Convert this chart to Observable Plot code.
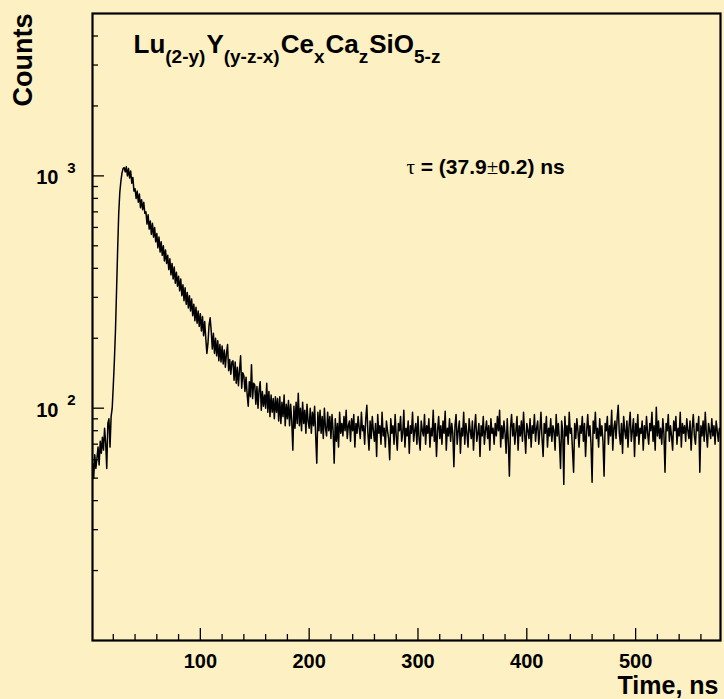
<!DOCTYPE html>
<html><head><meta charset="utf-8">
<script src="https://cdn.jsdelivr.net/npm/d3@7"></script>
<script src="https://cdn.jsdelivr.net/npm/@observablehq/plot@0.6"></script>
<style>
html,body{margin:0;padding:0;background:#fdf1c3;}
#chart svg{display:block;}
</style></head><body><div id="chart"></div>
<script>
// Histogram counts, one bin per ns starting at t = 0 ns
const counts = [
52,58,50,63,55,61,68,57,72,64,
75,66,82,71,55,86,90,68,92,100,
125,160,215,320,480,690,850,950,1030,1075,
1085,1040,1095,1000,1075,980,1050,930,985,860,
880,800,860,770,835,730,790,715,770,690,
700,620,680,590,640,560,625,545,600,520,
565,490,545,470,520,455,500,430,480,420,
455,395,440,375,420,360,405,345,385,335,
370,320,360,305,340,290,330,280,315,270,
305,262,295,250,280,238,272,232,262,225,
255,215,248,205,236,200,172,190,228,245,
215,180,210,172,200,168,195,160,188,158,
185,155,178,150,172,188,145,162,140,158,
160,132,158,128,150,125,146,168,122,142,
138,118,136,115,102,130,112,154,110,128,
126,104,124,100,120,130,98,118,102,114,
100,128,96,118,92,114,96,110,90,112,
96,110,88,112,86,106,92,114,84,104,
90,108,84,104,88,66,102,82,106,86,
116,84,100,80,106,86,98,78,104,88,
82,100,78,96,84,102,76,58,96,80,
98,78,92,74,100,82,76,96,80,92,
74,94,80,58,90,72,86,68,96,78,
86,76,92,80,98,74,84,88,72,90,
80,94,68,86,78,92,82,74,96,80,
84,70,90,103,78,66,88,74,92,80,
72,86,62,94,78,84,70,96,76,82,
68,88,80,74,60,90,78,84,70,94,
76,66,86,80,92,72,78,98,68,82,
76,88,64,84,78,96,72,80,86,70,
92,74,66,88,80,76,94,70,84,78,
90,68,82,76,98,72,86,62,80,92,
74,84,70,88,78,97,66,82,76,90,
72,86,78,56,84,94,70,80,88,64,
82,76,96,70,86,78,68,90,80,74,
88,66,82,94,72,78,86,62,84,76,
92,70,80,88,74,84,66,90,78,82,
70,86,76,92,80,98,68,84,74,88,
78,64,90,72,51,82,94,76,86,70,
80,92,66,84,76,88,72,96,78,64,
86,80,74,90,68,84,78,94,72,82,
88,70,80,96,74,62,86,78,92,68,
82,76,90,72,84,80,66,94,76,86,
72,55,88,80,47,92,76,84,70,96,
78,82,66,53,86,74,90,80,68,84,
78,92,72,86,62,80,94,76,84,70,
48,88,78,96,74,82,68,90,76,84,
72,51,86,80,92,70,84,76,98,66,
82,88,74,90,103,78,70,86,64,92,
80,74,88,68,84,96,72,80,90,62,
86,76,94,70,82,78,88,66,84,74,
92,78,70,86,80,96,72,84,66,101,
76,88,74,82,70,90,78,53,86,80,
94,72,84,76,66,88,80,92,70,82,
76,96,68,86,78,84,72,90,80,74,
88,66,82,94,76,70,86,80,92,53,
84,76,88,72,96,78,68,86,80,74,
90,76,84,70,88,80,72,82
];
const binStart = 0;
const binWidth = 1;

const xDomain = [0.9, 578];
const yDomain = [10, 5000];
const xMajorTicks = [100, 200, 300, 400, 500];
const xMinorTicks = [20, 40, 60, 80, 120, 140, 160, 180, 220, 240, 260, 280, 320, 340, 360, 380, 420, 440, 460, 480, 520, 540, 560];
const yMajorTicks = [100, 1000];
const yMinorTicks = [20, 30, 40, 50, 60, 70, 80, 90, 200, 300, 400, 500, 600, 700, 800, 900, 2000, 3000, 4000];
const xLabel = "Time, ns";
const yLabel = "Counts";
// [text, isSubscript]
const titleParts = [["Lu", 0], ["(2-y)", 1], ["Y", 0], ["(y-z-x)", 1], ["Ce", 0], ["x", 1], ["Ca", 0], ["z", 1], ["SiO", 0], ["5-z", 1]];
// [text, isSymbol]
const tauParts = [["τ", 1], [" = (37.9", 0], ["±", 1], ["0.2) ns", 0]];

const FONT = "'Liberation Sans', Arial, Helvetica, sans-serif";
const SYMFONT = "'Liberation Serif', 'DejaVu Serif', serif";
const data = counts.map((c, i) => ({t: binStart + i * binWidth, c}));

const ctx = document.createElement("canvas").getContext("2d");
function measure(text, size, weight, family) {
  ctx.font = `${weight} ${size}px ${family}`;
  return ctx.measureText(text).width;
}

const titleMarks = [];
{
  let off = 0;
  for (const [txt, sub] of titleParts) {
    const size = sub ? 19 : 26;
    titleMarks.push(Plot.text([txt], {
      frameAnchor: "top-left", text: d => d, dx: 41 + off, dy: sub ? 49.5 : 39.5,
      fontSize: size, fontWeight: "bold", fontFamily: FONT,
      textAnchor: "start", lineAnchor: "bottom", fill: "black"
    }));
    off += measure(txt, size, "bold", FONT) + (sub ? 1 : 0);
  }
}
const tauMarks = [];
{
  let off = 0;
  for (const [txt, sym] of tauParts) {
    const fam = sym ? SYMFONT : FONT;
    const w = sym ? "normal" : "bold";
    const size = 21;
    tauMarks.push(Plot.text([txt], {
      frameAnchor: "top-left", text: d => d, dx: 314 + off, dy: 160.5,
      fontSize: size, fontWeight: w, fontFamily: fam,
      textAnchor: "start", lineAnchor: "bottom", fill: "black"
    }));
    off += measure(txt, size, w, fam);
  }
}

const chart = Plot.plot({
  width: 724,
  height: 699,
  marginLeft: 92,
  marginRight: 4,
  marginTop: 13,
  marginBottom: 59,
  style: {background: "#fdf1c3", fontFamily: FONT, color: "black"},
  x: {domain: xDomain},
  y: {type: "log", domain: yDomain},
  marks: [
    Plot.line(data, {x: "t", y: "c", stroke: "black", strokeWidth: 1.5, clip: true}),
    Plot.axisX(xMinorTicks, {anchor: "bottom", tickSize: -6, tickFormat: () => "", strokeWidth: 1.3, label: null}),
    Plot.axisX(xMajorTicks, {anchor: "bottom", tickSize: -12, tickFormat: () => "", strokeWidth: 1.3, label: null}),
    Plot.axisY(yMinorTicks, {anchor: "left", tickSize: -6, tickFormat: () => "", strokeWidth: 1.3, label: null}),
    Plot.axisY(yMajorTicks, {anchor: "left", tickSize: -12, tickFormat: () => "", strokeWidth: 1.3, label: null}),
    Plot.axisX(xMajorTicks, {anchor: "bottom", tickSize: 0, tickPadding: 13, fontSize: 20, fontWeight: "bold", tickFormat: d => String(d), label: null}),
    Plot.axisY(yMajorTicks, {anchor: "left", tickSize: 0, tickPadding: 34, fontSize: 20, fontWeight: "bold", dy: 2, tickFormat: () => "10", label: null}),
    Plot.axisY(yMajorTicks, {anchor: "left", tickSize: 0, tickPadding: 17, fontSize: 15, fontWeight: "bold", dy: -8, tickFormat: d => String(Math.round(Math.log10(d))), label: null}),
    Plot.text([xLabel], {frameAnchor: "bottom-right", text: d => d, dx: -2, dy: 53, fontSize: 25, fontWeight: "bold", textAnchor: "end", lineAnchor: "bottom"}),
    Plot.text([yLabel], {frameAnchor: "top-left", text: d => d, dx: -69, dy: 0, rotate: -90, fontSize: 27, fontWeight: "bold", textAnchor: "end", lineAnchor: "middle"}),
    ...titleMarks,
    ...tauMarks,
    Plot.frame({stroke: "black", strokeWidth: 2.2})
  ]
});
document.getElementById("chart").appendChild(chart);
</script>
</body></html>
